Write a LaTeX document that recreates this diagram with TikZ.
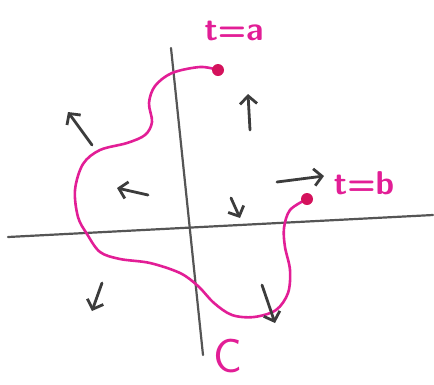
\documentclass[tikz,border=0pt]{standalone}
\usetikzlibrary{arrows.meta}
\definecolor{penpink}{RGB}{226,30,150}
\definecolor{dotred}{RGB}{212,18,92}
\definecolor{pencil}{RGB}{85,85,85}
\definecolor{inkgray}{RGB}{60,60,60}

\begin{document}
\begin{tikzpicture}
[
    x=1pt, y=-1pt,
    axis/.style={draw=pencil, line width=2.2pt, line cap=round},
    curve/.style={draw=penpink, line width=2.6pt, line cap=round},
    vec/.style={draw=inkgray, line width=2.8pt, line cap=round, -{Straight Barb[length=8pt,width=17pt]}},
    endpt/.style={circle, fill=dotred, inner sep=0pt, minimum size=12pt},
    lbl/.style={text=penpink, inner sep=0pt, font=\fontsize{33}{33}\sffamily\bfseries}
]
    \useasboundingbox (0,0) rectangle (434,384);

    % axes
    \coordinate (xl) at (8,237);
    \coordinate (xr) at (433,215);
    \coordinate (yt) at (171,48);
    \coordinate (yb) at (203,355);
    \draw[axis] (xl) -- (xr);
    \draw[axis] (yt) -- (yb);

    % the curve C, from t=a to t=b
    \coordinate (ta) at (218,70);
    \coordinate (tb) at (307,199);
    \draw[curve] plot[smooth, tension=0.55] coordinates {
        (ta) (200,67) (172,73) (155,86) (149,103) (152,122) (145,135)
        (127,143) (100,150) (83,164) (75,190) (78,217) (87,234)
        (100,252) (120,259) (150,263) (180,273) (198,286) (214,303)
        (232,315) (254,317) (276,310) (288,293) (290,270) (285,247)
        (284,228) (290,210) (tb)};
    \node[endpt] (dota) at (ta) {};
    \node[endpt] (dotb) at (tb) {};

    % vectors along the curve
    \coordinate (v1s) at (92,145);  \coordinate (v1e) at (68,112);
    \coordinate (v2s) at (250,130); \coordinate (v2e) at (248,94);
    \coordinate (v3s) at (148,195); \coordinate (v3e) at (117,188);
    \coordinate (v4s) at (231,198); \coordinate (v4e) at (240,218);
    \coordinate (v5s) at (277,182); \coordinate (v5e) at (324,176);
    \coordinate (v6s) at (102,283); \coordinate (v6e) at (92,311);
    \coordinate (v7s) at (262,285); \coordinate (v7e) at (275,323);
    \foreach \v in {1,...,7}
        \draw[vec] (v\v s) -- (v\v e);

    % labels
    \node[lbl] (la) at (234,31) {t=a};
    \node[lbl] (lb) at (364,183) {t=b};
    \node[lbl, font=\fontsize{48}{48}\sffamily] (lc) at (228,356) {C};
\end{tikzpicture}
\end{document}
